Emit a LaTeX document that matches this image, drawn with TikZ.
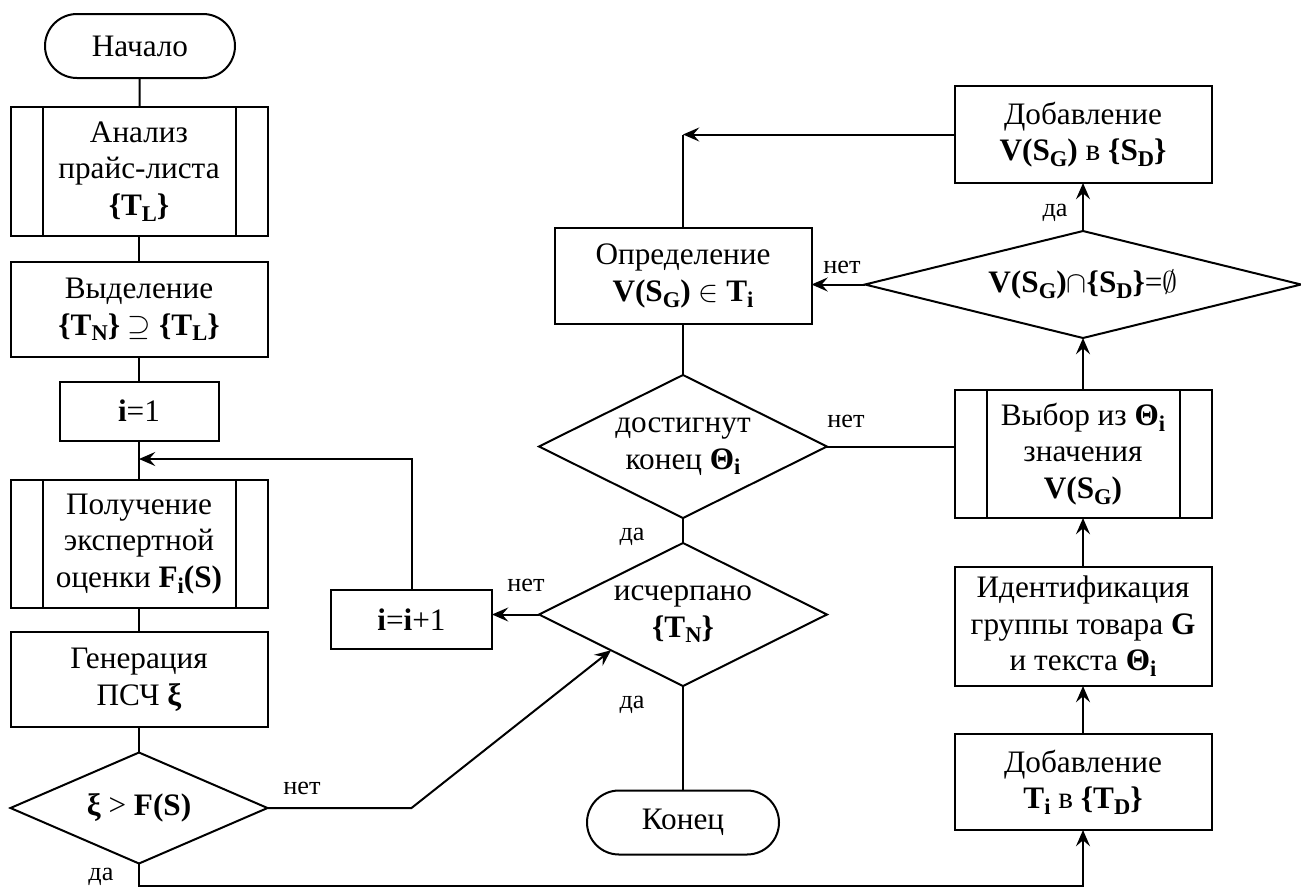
\documentclass[tikz,border=0pt]{standalone}
\usepackage{fontspec}
\setmainfont{Liberation Serif}
\usepackage{amssymb}
\usetikzlibrary{arrows.meta, shapes.geometric}

\newcommand{\pw}{0.4pt}
\newcommand{\idx}[1]{\raisebox{-0.4ex}{\fontsize{9}{9}\selectfont\textbf{#1}}}

\begin{document}
\begin{tikzpicture}[x=\pw, y=-\pw]
    \tikzstyle{every node} = [font=\fontsize{12.5}{14.6}\selectfont, align=center, inner sep=0pt, outer sep=0pt]
    \tikzstyle{block} = [draw, line width=0.8pt, rectangle, minimum width=257*\pw]
    \tikzstyle{subproc} = [block, path picture={
        \draw [line width=0.8pt] ([xshift=12.8pt]path picture bounding box.north west) -- ([xshift=12.8pt]path picture bounding box.south west);
        \draw [line width=0.8pt] ([xshift=-12.8pt]path picture bounding box.north east) -- ([xshift=-12.8pt]path picture bounding box.south east);}]
    \tikzstyle{term} = [draw, line width=0.8pt, rectangle, rounded corners=12.8pt, minimum height=64*\pw]
    \tikzstyle{decision} = [draw, line width=0.8pt, diamond, aspect=2]
    \tikzstyle{lbl} = [font=\fontsize{10.5}{12}\selectfont]
    \tikzstyle{conn} = [draw, line width=0.8pt]
    \tikzstyle{conarr} = [conn, -{Stealth[length=6.5pt, width=5.6pt, inset=2.4pt]}]
    \useasboundingbox (0, 0) rectangle (1301, 888);

    % left column
    \node [term, minimum width=190*\pw] (start) at (140, 46) {Начало};
    \node [subproc, minimum height=129*\pw] (analiz) at (139, 171.5) {Анализ\\прайс-листа\\\textbf{\{T\idx{L}\}}};
    \node [block, minimum height=95*\pw] (vydel) at (139, 309.5) {Выделение\\\textbf{\{T\idx{N}\}} $\supseteq$ \textbf{\{T\idx{L}\}}};
    \node [block, minimum width=159*\pw, minimum height=59*\pw] (ione) at (139, 411) {\textbf{i}=1};
    \coordinate (loop) at (139, 459);
    \node [subproc, minimum height=128*\pw] (poluch) at (139, 544) {Получение\\экспертной\\оценки \textbf{F\idx{i}(S)}};
    \node [block, minimum height=95*\pw] (gener) at (139, 679.5) {Генерация\\ПСЧ \textbf{ξ}};
    \node [decision, aspect=2.3, minimum width=257*\pw, minimum height=111*\pw] (xi) at (139, 808) {\textbf{ξ} > \textbf{F(S)}};
    \coordinate (bottom) at (139, 886);

    % middle column
    \node [block, minimum width=161*\pw, minimum height=59*\pw] (iinc) at (411.5, 619.5) {\textbf{i}=\textbf{i}+1};
    \node [block, minimum height=96*\pw] (opred) at (683, 276) {Определение\\\textbf{V(S\idx{G})} $\in$ \textbf{T\idx{i}}};
    \node [decision, minimum width=288*\pw, minimum height=143*\pw] (dost) at (683, 446.5) {достигнут\\конец \textbf{Θ\idx{i}}};
    \node [decision, minimum width=288*\pw, minimum height=143*\pw] (ischerp) at (683, 614.5) {исчерпано\\\textbf{\{T\idx{N}\}}};
    \node [term, minimum width=192*\pw] (konec) at (683, 822.5) {Конец};

    % right column
    \node [block, minimum height=97*\pw] (dobavSD) at (1083, 134.5) {Добавление\\\textbf{V(S\idx{G})} в \textbf{\{S\idx{D}\}}};
    \node [decision, aspect=4, minimum width=436*\pw, minimum height=107*\pw] (vsd) at (1083, 284.5) {\textbf{V(S\idx{G})}$\cap$\textbf{\{S\idx{D}\}}=$\emptyset$};
    \node [subproc, minimum height=128*\pw] (vybor) at (1083, 454) {Выбор из \textbf{Θ\idx{i}}\\значения\\\textbf{V(S\idx{G})}};
    \node [block, minimum height=119*\pw] (ident) at (1083, 626.5) {Идентификация\\группы товара \textbf{G}\\и текста \textbf{Θ\idx{i}}};
    \node [block, minimum height=96*\pw] (dobavT) at (1083, 782) {Добавление\\\textbf{T\idx{i}} в \textbf{\{T\idx{D}\}}};

    % connectors
    \draw [conn] (start) -- (analiz);
    \draw [conn] (analiz) -- (vydel);
    \draw [conn] (vydel) -- (ione);
    \draw [conn] (ione) -- (poluch);
    \draw [conn] (poluch) -- (gener);
    \draw [conn] (gener) -- (xi);
    \draw [conarr] (iinc.north) |- (loop);
    \draw [conarr] (ischerp.west) -- (ischerp.west -| iinc.east);
    \draw [conarr] (xi.east) -- (xi.east -| iinc.south) -- (ischerp.south west);
    \draw [conarr] (xi.south) -- (bottom) -| (dobavT.south);
    \draw [conn] (opred) -- (dost);
    \draw [conn] (dost) -- (ischerp);
    \draw [conn] (ischerp) -- (konec);
    \draw [conn] (dost.east) -- (dost.east -| vybor.west);
    \draw [conarr] (dobavT) -- (ident);
    \draw [conarr] (ident) -- (vybor);
    \draw [conarr] (vybor) -- (vsd);
    \draw [conarr] (vsd) -- (dobavSD);
    \draw [conarr] (vsd.west) -- (vsd.west -| opred.east);
    \draw [conarr] (dobavSD.west) -- (dobavSD.west -| opred.north);
    \draw [conn] (opred.north) -- (dobavSD.west -| opred.north);

    % branch labels
    \node [lbl] (nXi) at (302, 788) {нет};
    \node [lbl] (dXi) at (101, 877) {да};
    \node [lbl] (nIsch) at (526, 585) {нет};
    \node [lbl] (dDost) at (632, 537) {да};
    \node [lbl] (dIsch) at (632, 705) {да};
    \node [lbl] (nDost) at (846, 421) {нет};
    \node [lbl] (nVsd) at (842, 267) {нет};
    \node [lbl] (dVsd) at (1055, 213) {да};
\end{tikzpicture}
\end{document}
